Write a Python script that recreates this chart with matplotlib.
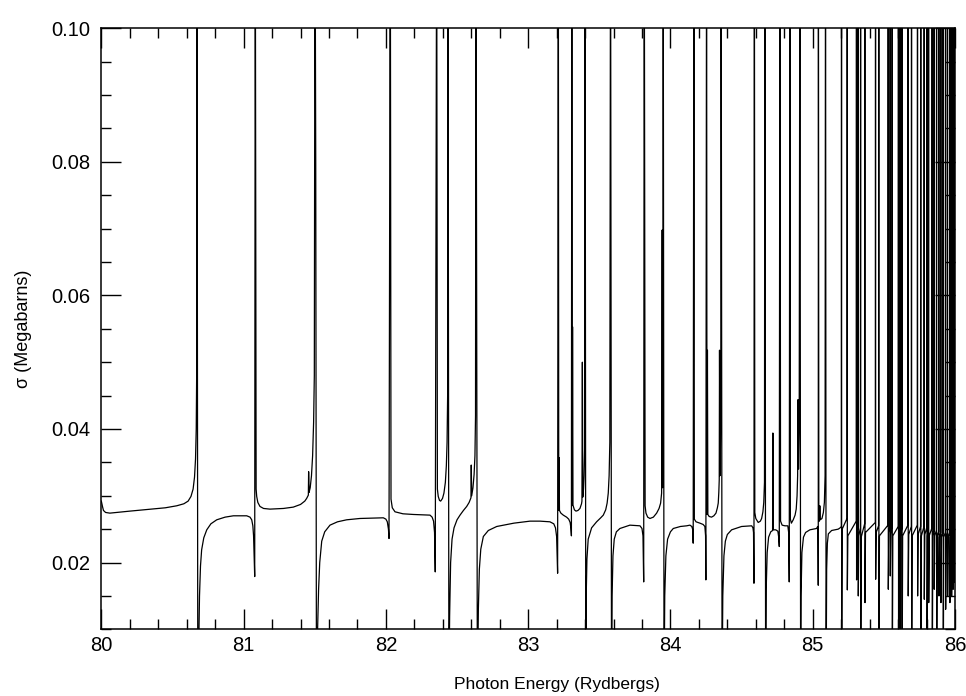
import matplotlib
matplotlib.use('Agg')
import matplotlib.pyplot as plt
import matplotlib.ticker as mticker

# ── Hand-read trace, 80–83 Ry ──────────────────────────────
e_a = [80.000, 80.008, 80.015, 80.030, 80.060, 80.200, 80.350, 80.450, 80.530, 80.580,
       80.610, 80.630, 80.645, 80.655, 80.662, 80.667, 80.670, 80.672, 80.678, 80.685,
       80.690, 80.697, 80.705, 80.720, 80.741, 80.770, 80.811, 80.870, 80.928, 81.022,
       81.045, 81.057, 81.065, 81.070, 81.078, 81.082, 81.088, 81.092, 81.100, 81.115,
       81.140, 81.185, 81.280, 81.349, 81.400, 81.430, 81.443, 81.455, 81.457, 81.460,
       81.468, 81.477, 81.485, 81.492, 81.497, 81.502, 81.507, 81.512, 81.520, 81.527,
       81.535, 81.549, 81.570, 81.607, 81.660, 81.724, 81.818, 81.982, 82.000, 82.010,
       82.018, 82.022, 82.031, 82.036, 82.045, 82.064, 82.120, 82.193, 82.310, 82.325,
       82.335, 82.342, 82.347, 82.357, 82.362, 82.368, 82.377, 82.385, 82.398, 82.408,
       82.418, 82.425, 82.430, 82.434, 82.436, 82.443, 82.448, 82.455, 82.465, 82.479,
       82.500, 82.521, 82.545, 82.568, 82.585, 82.598, 82.600, 82.603, 82.612, 82.620,
       82.626, 82.630, 82.633, 82.643, 82.650, 82.657, 82.667, 82.685, 82.720, 82.779,
       82.900, 83.013]
s_a = [0.0292, 0.0284, 0.0278, 0.0275, 0.0274, 0.0277, 0.0280, 0.0282, 0.0285, 0.0288,
       0.0292, 0.0299, 0.0310, 0.0328, 0.0355, 0.0400, 0.0480, 0.1200, 0.0000, 0.0080,
       0.0150, 0.0195, 0.0219, 0.0237, 0.0249, 0.0258, 0.0264, 0.0268, 0.0270, 0.0270,
       0.0268, 0.0264, 0.0255, 0.0240, 0.0179, 0.1200, 0.0310, 0.0299, 0.0290, 0.0284,
       0.0281, 0.0280, 0.0281, 0.0283, 0.0287, 0.0292, 0.0296, 0.0301, 0.0336, 0.0305,
       0.0312, 0.0330, 0.0360, 0.0410, 0.0480, 0.1200, 0.0795, 0.0000, 0.0100, 0.0160,
       0.0200, 0.0232, 0.0246, 0.0256, 0.0261, 0.0264, 0.0266, 0.0267, 0.0265, 0.0261,
       0.0250, 0.0236, 0.1200, 0.0295, 0.0282, 0.0276, 0.0273, 0.0272, 0.0271, 0.0268,
       0.0262, 0.0245, 0.0186, 0.1200, 0.0310, 0.0299, 0.0293, 0.0292, 0.0296, 0.0304,
       0.0320, 0.0345, 0.0380, 0.0450, 0.1200, 0.0000, 0.0120, 0.0200, 0.0235, 0.0252,
       0.0264, 0.0271, 0.0278, 0.0284, 0.0290, 0.0297, 0.0346, 0.0300, 0.0312, 0.0332,
       0.0360, 0.0420, 0.1200, 0.0000, 0.0130, 0.0190, 0.0220, 0.0239, 0.0248, 0.0254,
       0.0259, 0.0262]

# ── 83–84 Ry ───────────────────────────────────────────────
e_b = [83.083, 83.153, 83.180, 83.192, 83.200, 83.207, 83.212, 83.215, 83.217, 83.220,
       83.230, 83.247, 83.270, 83.285, 83.295, 83.300, 83.304, 83.307, 83.310, 83.312,
       83.315, 83.325, 83.336, 83.350, 83.364, 83.375, 83.378, 83.381, 83.384, 83.389,
       83.393, 83.397, 83.400, 83.405, 83.408, 83.413, 83.422, 83.446, 83.481, 83.510,
       83.528, 83.545, 83.555, 83.563, 83.569, 83.574, 83.579, 83.586, 83.590, 83.596,
       83.605, 83.620, 83.645, 83.715, 83.786, 83.800, 83.807, 83.812, 83.816, 83.822,
       83.828, 83.840, 83.856, 83.880, 83.903, 83.920, 83.931, 83.938, 83.942, 83.945,
       83.947, 83.949, 83.955, 83.960, 83.968, 83.980, 84.000, 84.020, 84.070, 84.114]
s_b = [0.0262, 0.0261, 0.0258, 0.0252, 0.0239, 0.0184, 0.1200, 0.0278, 0.0357, 0.0278,
       0.0274, 0.0271, 0.0268, 0.0265, 0.0260, 0.0252, 0.0240, 0.1200, 0.0286, 0.0553,
       0.0286, 0.0279, 0.0277, 0.0278, 0.0281, 0.0288, 0.0292, 0.0500, 0.0298, 0.0310,
       0.0330, 0.0370, 0.1200, 0.0000, 0.0150, 0.0205, 0.0235, 0.0252, 0.0261, 0.0267,
       0.0271, 0.0279, 0.0289, 0.0304, 0.0330, 0.0380, 0.1200, 0.0000, 0.0150, 0.0210,
       0.0235, 0.0246, 0.0251, 0.0256, 0.0255, 0.0251, 0.0240, 0.0171, 0.1200, 0.0285,
       0.0274, 0.0268, 0.0266, 0.0268, 0.0274, 0.0281, 0.0289, 0.0304, 0.0698, 0.0312,
       0.0350, 0.1200, 0.0000, 0.0150, 0.0210, 0.0235, 0.0246, 0.0251, 0.0254, 0.0255]

# ── 84–85.2 Ry ─────────────────────────────────────────────
e_c = [84.137, 84.150, 84.156, 84.160, 84.165, 84.168, 84.180, 84.207, 84.230, 84.242,
       84.247, 84.249, 84.254, 84.257, 84.260, 84.263, 84.272, 84.289, 84.305, 84.320,
       84.330, 84.336, 84.340, 84.343, 84.345, 84.348, 84.351, 84.354, 84.356, 84.363,
       84.368, 84.376, 84.386, 84.400, 84.430, 84.500, 84.571, 84.580, 84.584, 84.587,
       84.590, 84.593, 84.600, 84.617, 84.632, 84.641, 84.650, 84.656, 84.661, 84.664,
       84.669, 84.673, 84.680, 84.690, 84.705, 84.718, 84.720, 84.722, 84.740, 84.755,
       84.761, 84.765, 84.770, 84.774, 84.785, 84.805, 84.825, 84.831, 84.835, 84.840,
       84.843, 84.850, 84.863, 84.876, 84.884, 84.890, 84.894, 84.897, 84.900, 84.905,
       84.910, 84.915, 84.918, 84.924, 84.935, 84.950, 84.980, 85.027, 85.035, 85.037,
       85.039, 85.040, 85.043, 85.047, 85.050, 85.053, 85.065, 85.075, 85.082, 85.087,
       85.090, 85.094, 85.098, 85.103, 85.110, 85.133, 85.179, 85.193]
s_c = [0.0256, 0.0254, 0.0250, 0.0229, 0.1200, 0.0265, 0.0261, 0.0259, 0.0257, 0.0254,
       0.0240, 0.0174, 0.1200, 0.0272, 0.0518, 0.0272, 0.0269, 0.0268, 0.0270, 0.0274,
       0.0282, 0.0289, 0.0305, 0.0324, 0.0518, 0.0330, 0.0370, 0.0450, 0.1200, 0.0000,
       0.0150, 0.0210, 0.0232, 0.0242, 0.0249, 0.0254, 0.0255, 0.0252, 0.0245, 0.0169,
       0.1200, 0.0275, 0.0266, 0.0260, 0.0262, 0.0266, 0.0276, 0.0290, 0.0320, 0.1200,
       0.0000, 0.0160, 0.0215, 0.0238, 0.0246, 0.0248, 0.0394, 0.0249, 0.0249, 0.0247,
       0.0238, 0.0224, 0.1200, 0.0262, 0.0256, 0.0255, 0.0255, 0.0245, 0.0171, 0.1200,
       0.0265, 0.0259, 0.0264, 0.0271, 0.0280, 0.0300, 0.0330, 0.0444, 0.0340, 0.0400,
       0.1200, 0.0000, 0.0150, 0.0215, 0.0238, 0.0245, 0.0249, 0.0251, 0.0254, 0.0240,
       0.0166, 0.1200, 0.0268, 0.0262, 0.0285, 0.0264, 0.0266, 0.0275, 0.0290, 0.0330,
       0.1200, 0.0000, 0.0190, 0.0229, 0.0243, 0.0248, 0.0250, 0.0252]

# ── Dense series near the limit, 85.2–86 Ry ────────────────
res_e    = [85.203, 85.243, 85.308, 85.320, 85.337, 85.367, 85.442, 85.465, 85.531, 85.545,
            85.559, 85.603, 85.615, 85.628, 85.671, 85.695, 85.737, 85.760, 85.784, 85.803,
            85.815, 85.840, 85.854, 85.871, 85.887, 85.901, 85.917, 85.934, 85.948, 85.964,
            85.976, 85.987, 85.995]
res_pre  = [0.0254, 0.0266, 0.0262, 0.0252, 0.0252, 0.0258, 0.0260, 0.0255, 0.0256, 0.0255,
            0.0258, 0.0254, 0.0252, 0.0252, 0.0256, 0.0254, 0.0256, 0.0254, 0.0254, 0.0252,
            0.0252, 0.0252, 0.0250, 0.0248, 0.0246, 0.0245, 0.0245, 0.0245, 0.0245, 0.0245,
            0.0245, 0.0245, 0.0245]
res_hi   = [0.12] * 33
res_lo   = [0.0000, 0.0159, 0.0174, 0.0150, 0.0000, 0.0140, 0.0175, 0.0000, 0.0160, 0.0180,
            0.0000, 0.0000, 0.0000, 0.0000, 0.0150, 0.0000, 0.0150, 0.0000, 0.0145, 0.0000,
            0.0140, 0.0000, 0.0160, 0.0000, 0.0150, 0.0140, 0.0000, 0.0130, 0.0150, 0.0140,
            0.0150, 0.0160, 0.0170]
res_post = [0.0250, 0.0240, 0.0248, 0.0240, 0.0238, 0.0245, 0.0245, 0.0240, 0.0245, 0.0242,
            0.0240, 0.0242, 0.0240, 0.0240, 0.0242, 0.0240, 0.0242, 0.0240, 0.0242, 0.0240,
            0.0240, 0.0240, 0.0240, 0.0240, 0.0238, 0.0238, 0.0238, 0.0238, 0.0238, 0.0238,
            0.0238, 0.0238, 0.0238]

energy = e_a + e_b + e_c
sigma = s_a + s_b + s_c
for e, pre, hi, lo, post in zip(res_e, res_pre, res_hi, res_lo, res_post):
    energy += [e - 0.002, e - 0.0004, e + 0.0004, e + 0.004]
    sigma += [pre, hi, lo, post]

# ── Style ──────────────────────────────────────────────────
plt.rcParams.update({
    'font.family': 'sans-serif',
    'font.sans-serif': ['Liberation Sans', 'DejaVu Sans'],
})

fig = plt.figure(figsize=(9.66, 6.96), dpi=100)
ax = fig.add_axes([0.1049, 0.0958, 0.8837, 0.8635])

ax.plot(energy, sigma, color='black', linewidth=0.9)

ax.set_xlim(80, 86)
ax.set_ylim(0.01, 0.10)
ax.xaxis.set_major_locator(mticker.MultipleLocator(1))
ax.xaxis.set_minor_locator(mticker.MultipleLocator(0.2))
ax.yaxis.set_major_locator(mticker.FixedLocator([0.02, 0.04, 0.06, 0.08, 0.10]))
ax.yaxis.set_minor_locator(mticker.MultipleLocator(0.005))
ax.yaxis.set_major_formatter(mticker.FormatStrFormatter('%.2f'))

ax.tick_params(which='both', direction='in', top=True, right=True,
               width=1.0, color='black')
ax.tick_params(which='major', length=14.5, labelsize=14.5)
ax.tick_params(axis='x', which='major', pad=5)
ax.tick_params(axis='y', which='major', pad=8)
ax.tick_params(which='minor', length=7.5)
for sp in ax.spines.values():
    sp.set_linewidth(1.1)

ax.set_xlabel('Photon Energy (Rydbergs)', fontsize=12.5)
ax.xaxis.set_label_coords(0.534, -0.079)
ax.set_ylabel('σ (Megabarns)', fontsize=13, labelpad=14)

plt.savefig('out.png', dpi=100, facecolor='white')
